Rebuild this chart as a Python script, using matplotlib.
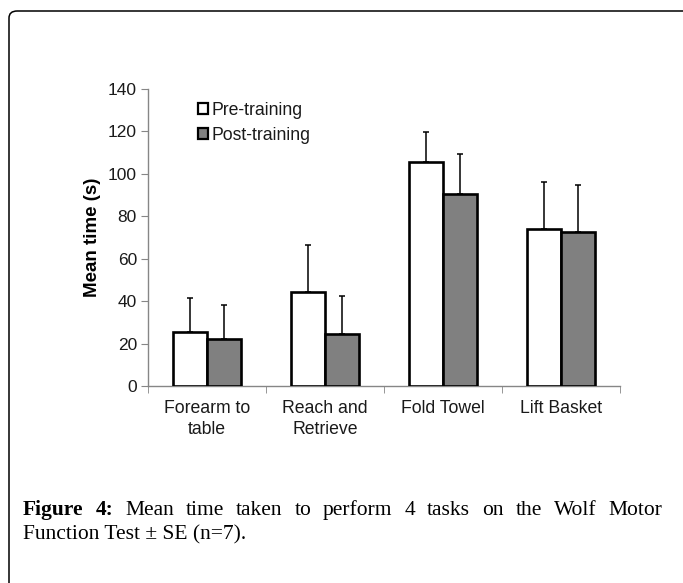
import matplotlib.pyplot as plt
import numpy as np
from matplotlib.patches import FancyBboxPatch, Patch

# data
tasks = ['Forearm to\ntable', 'Reach and\nRetrieve', 'Fold Towel', 'Lift Basket']
pre_mean = [25.5, 44.5, 105.5, 74.0]
pre_se = [16.0, 22.0, 14.0, 22.0]
post_mean = [22.2, 24.5, 90.5, 72.5]
post_se = [16.0, 18.0, 19.0, 22.3]
series_labels = ['Pre-training', 'Post-training']

W, H = 683, 583
fig = plt.figure(figsize=(W / 100, H / 100), dpi=100)

# outer rounded frame (cut off at right and bottom)
frame = FancyBboxPatch((9 / W, -0.1), 1.0, 1 - 11 / H + 0.1,
                       boxstyle='round,pad=0,rounding_size=0.012',
                       transform=fig.transFigure, fill=False,
                       edgecolor='black', lw=1.1)
fig.patches.append(frame)

ax = fig.add_axes([148 / W, 1 - 386 / H, (620 - 148) / W, (386 - 89) / H])
sans = 'Liberation Sans'
gray_axis = '#868686'
txt_col = '#1a1a1a'

x = np.arange(len(tasks))
bw = 0.29
ax.bar(x - bw / 2, pre_mean, bw, color='white', edgecolor='black', lw=1.9, zorder=3)
ax.bar(x + bw / 2, post_mean, bw, color='#808080', edgecolor='black', lw=1.9, zorder=3)
ax.errorbar(x - bw / 2, pre_mean, yerr=[np.zeros(4), pre_se], fmt='none',
            ecolor='black', elinewidth=1.1, capsize=2.5, capthick=1.1, zorder=2)
ax.errorbar(x + bw / 2, post_mean, yerr=[np.zeros(4), post_se], fmt='none',
            ecolor='black', elinewidth=1.1, capsize=2.5, capthick=1.1, zorder=2)

ax.set_xlim(-0.5, len(tasks) - 0.5)
ax.set_ylim(0, 140)
ax.set_yticks(range(0, 141, 20))
ax.set_xticks(x)
ax.set_xticklabels(tasks, fontsize=12.7, family=sans, linespacing=1.3, color=txt_col)
ax.set_xticks(np.arange(-0.5, len(tasks)), minor=True)
ax.tick_params(axis='x', which='major', length=0, pad=10)
ax.tick_params(axis='x', which='minor', length=5, color=gray_axis, direction='out')
ax.tick_params(axis='y', length=5, color=gray_axis, labelsize=12.5, pad=3,
               labelcolor=txt_col)
for lab in ax.get_yticklabels():
    lab.set_family(sans)
for s in ['top', 'right']:
    ax.spines[s].set_visible(False)
for s in ['left', 'bottom']:
    ax.spines[s].set_color(gray_axis)
    ax.spines[s].set_linewidth(1.0)
ax.set_ylabel('Mean time (s)', fontsize=13.5, fontweight='bold', family=sans,
              labelpad=5, color='black')

handles = [Patch(facecolor='white', edgecolor='black', lw=1.6),
           Patch(facecolor='#808080', edgecolor='black', lw=1.6)]
ax.legend(handles, series_labels, loc='upper left', bbox_to_anchor=(182 / W, 1 - 86 / H),
          bbox_transform=fig.transFigure, frameon=False, handlelength=0.55,
          handleheight=0.55, handletextpad=0.2, labelspacing=0.45,
          prop={'family': sans, 'size': 12.7})
for t in ax.get_legend().get_texts():
    t.set_color(txt_col)

# caption, first line justified between two margins
serif = 'Liberation Serif'
fs = 15.5
left, right = 23, 662
words = [('Figure', 'bold'), ('4:', 'bold'), ('Mean', 'normal'), ('time', 'normal'),
         ('taken', 'normal'), ('to', 'normal'), ('perform', 'normal'), ('4', 'normal'),
         ('tasks', 'normal'), ('on', 'normal'), ('the', 'normal'), ('Wolf', 'normal'),
         ('Motor', 'normal')]
renderer = fig.canvas.get_renderer()
texts = []
widths = []
for w, wt in words:
    t = fig.text(0, 1 - 515 / H, w, fontsize=fs, family=serif, fontweight=wt, va='baseline')
    widths.append(t.get_window_extent(renderer).width)
    texts.append(t)
gap = (right - left - sum(widths)) / (len(words) - 1)
pos = left
for t, wdt in zip(texts, widths):
    t.set_x(pos / W)
    pos += wdt + gap
fig.text(left / W, 1 - 539 / H, 'Function Test \u00b1 SE (n=7).', fontsize=fs,
         family=serif, va='baseline')

fig.savefig('out.png', dpi=100)
